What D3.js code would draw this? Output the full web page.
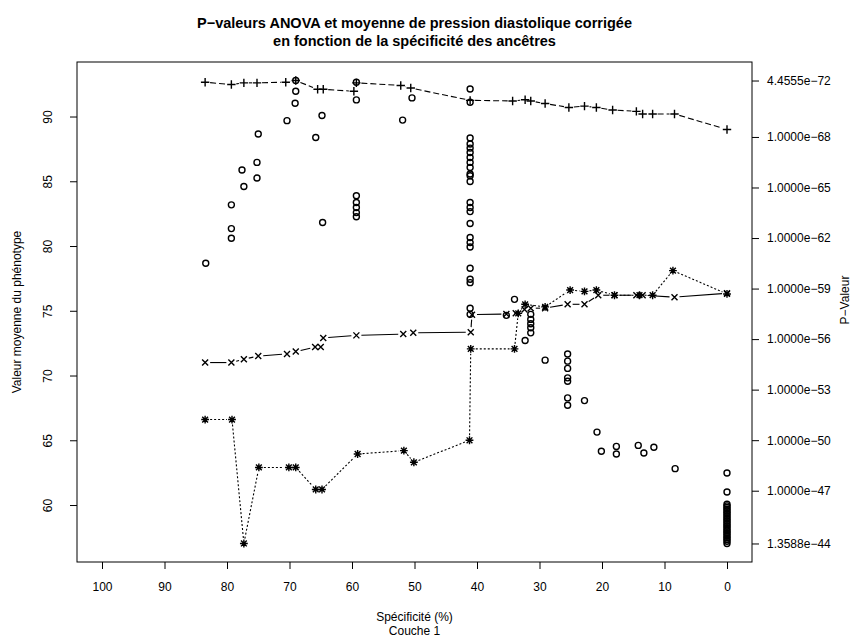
<!DOCTYPE html>
<html>
<head>
<meta charset="utf-8">
<script src="https://cdn.jsdelivr.net/npm/d3@7"></script>
<style>
  body { margin: 0; background: #fff; }
  text { font-family: "Liberation Sans", Arial, Helvetica, sans-serif; fill: #000; }
</style>
</head>
<body>
<svg id="chart" width="863" height="644"></svg>
<script>
// ---- Data -------------------------------------------------------------
// x-axis ticks (specificity, %)
const xTicks = [100, 90, 80, 70, 60, 50, 40, 30, 20, 10, 0];
// left axis ticks (mean phenotype value)
const leftTicks = [60, 65, 70, 75, 80, 85, 90];
// right axis ticks (p-values, shown on a -log10 scale)
const rightTickP = [1.3588e-44, 1e-47, 1e-50, 1e-53, 1e-56, 1e-59, 1e-62, 1e-65, 1e-68, 4.4555e-72];

// "+" series: mean phenotype
const plusX = [83.5, 79.3, 77.3, 75.2, 70.6, 69.0, 65.5, 64.6, 59.7, 59.3, 52.2, 50.6, 41.1, 34.3, 32.3, 31.4, 29.1, 25.3, 22.8, 20.9, 18.3, 14.5, 13.5, 11.9, 8.4, 0];
const plusY = [92.65, 92.47, 92.6, 92.6, 92.65, 92.78, 92.1, 92.1, 91.95, 92.6, 92.4, 92.2, 91.25, 91.2, 91.3, 91.2, 91.0, 90.7, 90.8, 90.7, 90.5, 90.4, 90.2, 90.2, 90.2, 89.0];

// "x" series: mean phenotype
const crossX = [83.5, 79.3, 77.3, 75.0, 70.4, 69.0, 65.9, 65.0, 64.6, 59.3, 51.8, 50.2, 41.0, 40.8, 35.3, 33.8, 32.4, 31.4, 29.1, 25.5, 22.8, 20.6, 18.0, 14.5, 13.5, 8.4, 0];
const crossY = [71.0, 71.0, 71.26, 71.5, 71.67, 71.85, 72.2, 72.2, 72.9, 73.1, 73.2, 73.3, 73.35, 74.7, 74.75, 74.8, 75.1, 75.2, 75.2, 75.5, 75.5, 76.2, 76.2, 76.2, 76.2, 76.05, 76.35];

// "*" series: mean phenotype
const starX = [83.5, 79.2, 77.3, 74.9, 70.1, 69.0, 65.8, 64.8, 59.1, 51.7, 50.1, 41.2, 41.0, 34.0, 33.4, 32.3, 29.1, 25.1, 22.8, 20.9, 18.0, 14.0, 11.9, 8.65, 0];
const starY = [66.6, 66.6, 57.03, 62.9, 62.9, 62.9, 61.2, 61.2, 63.94, 64.2, 63.3, 65.0, 72.06, 72.06, 74.8, 75.5, 75.3, 76.6, 76.5, 76.6, 76.2, 76.2, 76.2, 78.1, 76.3];

// circles: ANOVA p-values, stored as -log10(p)
const circleX = [
  69.0, 69.0, 69.1, 70.4, 75.0, 75.2, 77.6, 75.2, 77.3, 79.3, 79.3, 79.3, 83.4,
  64.8, 65.8, 64.7,
  59.3, 59.3, 59.3, 59.3, 59.3, 59.3, 59.3,
  51.9, 50.4,
  41.1, 41.1, 41.1, 41.1, 41.1, 41.1, 41.1, 41.1, 41.1, 41.1, 41.1, 41.1,
  41.1, 41.1, 41.1, 41.1, 41.1, 41.1, 41.1, 41.1, 41.1, 41.1, 41.1, 41.1,
  34.0, 35.3, 31.4, 31.4, 31.4, 31.4, 31.4, 32.3, 29.1,
  25.5, 25.5, 25.5, 25.5, 25.5, 25.5, 25.5,
  22.8, 20.8, 20.1, 17.7, 17.7, 14.2, 13.3, 11.7, 8.3,
  0, 0,
  0, 0, 0, 0, 0, 0, 0, 0, 0, 0, 0, 0,
  0, 0, 0, 0, 0, 0, 0, 0, 0, 0, 0, 0
];
const circleLogP = [
  71.351, 70.71, 70.0, 68.97, 68.18, 66.49, 66.04, 65.56, 65.06, 63.97, 62.56, 61.99, 60.50,
  69.27, 67.97, 62.92,
  71.25, 70.2, 64.51, 64.11, 63.81, 63.51, 63.26,
  69.0, 70.32,
  70.85, 70.06, 67.94, 67.58, 67.34, 67.08, 66.78, 66.49, 66.19, 65.80, 65.70, 65.36,
  64.11, 63.81, 63.57, 62.86, 62.03, 61.73, 61.47, 60.21, 59.55, 59.35, 57.83, 57.47,
  58.36, 57.41, 57.47, 57.17, 56.91, 56.67, 56.37, 55.92, 54.75,
  55.12, 54.69, 54.26, 53.70, 53.50, 52.51, 52.07,
  52.35, 50.48, 49.34, 49.63, 49.18, 49.69, 49.24, 49.58, 48.31,
  48.05, 46.92,
  46.2, 46.1, 46.0, 45.9, 45.8, 45.7, 45.6, 45.5, 45.4, 45.3, 45.2, 45.1,
  45.0, 44.9, 44.8, 44.7, 44.6, 44.5, 44.4, 44.3, 44.2, 44.1, 44.0, 43.867
];

// ---- Layout -----------------------------------------------------------
const box = { left: 77, right: 752, top: 62, bottom: 562 };
const svg = d3.select("#chart");

// R-style 4% padding around a range
function padded(lo, hi) {
  const p = 0.04 * (hi - lo);
  return [lo - p, hi + p];
}

const x = d3.scaleLinear().domain(padded(0, 100).reverse()).range([box.left, box.right]);

const leftExtent = d3.extent([...plusY, ...crossY, ...starY]);
const yLeft = d3.scaleLinear().domain(padded(leftExtent[0], leftExtent[1])).range([box.bottom, box.top]);

const rightExtent = d3.extent(circleLogP);
const yRight = d3.scaleLinear().domain(padded(rightExtent[0], rightExtent[1])).range([box.bottom, box.top]);

// ---- Marker shapes ----------------------------------------------------
const plusShape = r => `M${-r},0H${r}M0,${-r}V${r}`;
const timesShape = r => `M${-r},${-r}L${r},${r}M${-r},${r}L${r},${-r}`;
const starShape = r => plusShape(r * 1.15) + timesShape(r * 0.85);

// Lines between points with a gap around each point (R type = "b")
function drawGapLine(g, xs, ys, yScale, dash) {
  const gap = 5;
  const pts = xs.map((v, i) => [x(v), yScale(ys[i])]);
  for (let i = 0; i < pts.length - 1; i++) {
    const [x0, y0] = pts[i], [x1, y1] = pts[i + 1];
    const d = Math.hypot(x1 - x0, y1 - y0);
    if (d <= 2 * gap) continue;
    const ux = (x1 - x0) / d, uy = (y1 - y0) / d;
    g.append("path")
      .attr("d", d3.line()([[x0 + ux * gap, y0 + uy * gap], [x1 - ux * gap, y1 - uy * gap]]))
      .attr("fill", "none")
      .attr("stroke", "#000")
      .attr("stroke-width", 1.1)
      .attr("stroke-dasharray", dash);
  }
}

function drawMarkers(g, xs, ys, yScale, shape) {
  g.selectAll(null).data(xs).enter().append("path")
    .attr("transform", (v, i) => `translate(${x(v)},${yScale(ys[i])})`)
    .attr("d", shape)
    .attr("fill", "none")
    .attr("stroke", "#000")
    .attr("stroke-width", 1.4);
}

const plot = svg.append("g");

// "+" series, dashed
drawGapLine(plot, plusX, plusY, yLeft, "6,3");
drawMarkers(plot, plusX, plusY, yLeft, plusShape(4.2));

// "x" series, solid
drawGapLine(plot, crossX, crossY, yLeft, null);
drawMarkers(plot, crossX, crossY, yLeft, timesShape(3));

// "*" series, dotted
drawGapLine(plot, starX, starY, yLeft, "2,2");
drawMarkers(plot, starX, starY, yLeft, starShape(3.4));

// p-value circles
plot.selectAll("circle.pv").data(circleX).enter().append("circle")
  .attr("class", "pv")
  .attr("cx", d => x(d))
  .attr("cy", (d, i) => yRight(circleLogP[i]))
  .attr("r", 3)
  .attr("fill", "none")
  .attr("stroke", "#000")
  .attr("stroke-width", 1.4);

// ---- Frame and axes ---------------------------------------------------
svg.append("rect")
  .attr("x", box.left).attr("y", box.top)
  .attr("width", box.right - box.left).attr("height", box.bottom - box.top)
  .attr("fill", "none").attr("stroke", "#000").attr("stroke-width", 1);

const fontSize = 12;

// bottom axis
const xAxis = svg.append("g")
  .attr("transform", `translate(0,${box.bottom})`)
  .call(d3.axisBottom(x).tickValues(xTicks).tickSize(7).tickPadding(13).tickFormat(d3.format("d")));
xAxis.select(".domain").remove();
xAxis.selectAll("text").attr("font-size", fontSize).attr("font-family", null);

// left axis, labels parallel to the axis
const yAxisL = svg.append("g")
  .attr("transform", `translate(${box.left},0)`)
  .call(d3.axisLeft(yLeft).tickValues(leftTicks).tickSize(7).tickFormat(d3.format("d")));
yAxisL.select(".domain").remove();
yAxisL.selectAll("text")
  .attr("font-size", fontSize).attr("font-family", null)
  .attr("x", 0).attr("y", -25).attr("dy", null)
  .attr("text-anchor", "middle")
  .attr("transform", "rotate(-90)");

// right axis (p-values)
const yAxisR = svg.append("g")
  .attr("transform", `translate(${box.right},0)`)
  .call(d3.axisRight(yRight)
    .tickValues(rightTickP.map(p => -Math.log10(p)))
    .tickSize(7).tickPadding(8)
    .tickFormat((d, i) => rightTickP[i].toExponential(4).replace("-", "\u2212")));
yAxisR.select(".domain").remove();
yAxisR.selectAll("text").attr("font-size", fontSize).attr("font-family", null);

svg.selectAll(".tick line").attr("stroke", "#000");

// ---- Titles -----------------------------------------------------------
const cx = (box.left + box.right) / 2;
const title = svg.append("text")
  .attr("x", cx).attr("text-anchor", "middle")
  .attr("font-size", 14.5).attr("font-weight", "bold");
title.append("tspan").attr("x", cx).attr("y", 28)
  .text("P\u2212valeurs ANOVA et moyenne de pression diastolique corrigée");
title.append("tspan").attr("x", cx).attr("y", 46)
  .text("en fonction de la spécificité des ancêtres");

svg.append("text")
  .attr("x", cx).attr("y", 621).attr("text-anchor", "middle").attr("font-size", fontSize)
  .text("Spécificité (%)");
svg.append("text")
  .attr("x", cx).attr("y", 635).attr("text-anchor", "middle").attr("font-size", fontSize)
  .text("Couche 1");

svg.append("text")
  .attr("transform", `translate(21,${(box.top + box.bottom) / 2}) rotate(-90)`)
  .attr("text-anchor", "middle").attr("font-size", fontSize)
  .text("Valeur moyenne du phénotype");

svg.append("text")
  .attr("transform", `translate(849,300) rotate(-90)`)
  .attr("text-anchor", "middle").attr("font-size", fontSize)
  .text("P\u2212Valeur");
</script>
</body>
</html>
